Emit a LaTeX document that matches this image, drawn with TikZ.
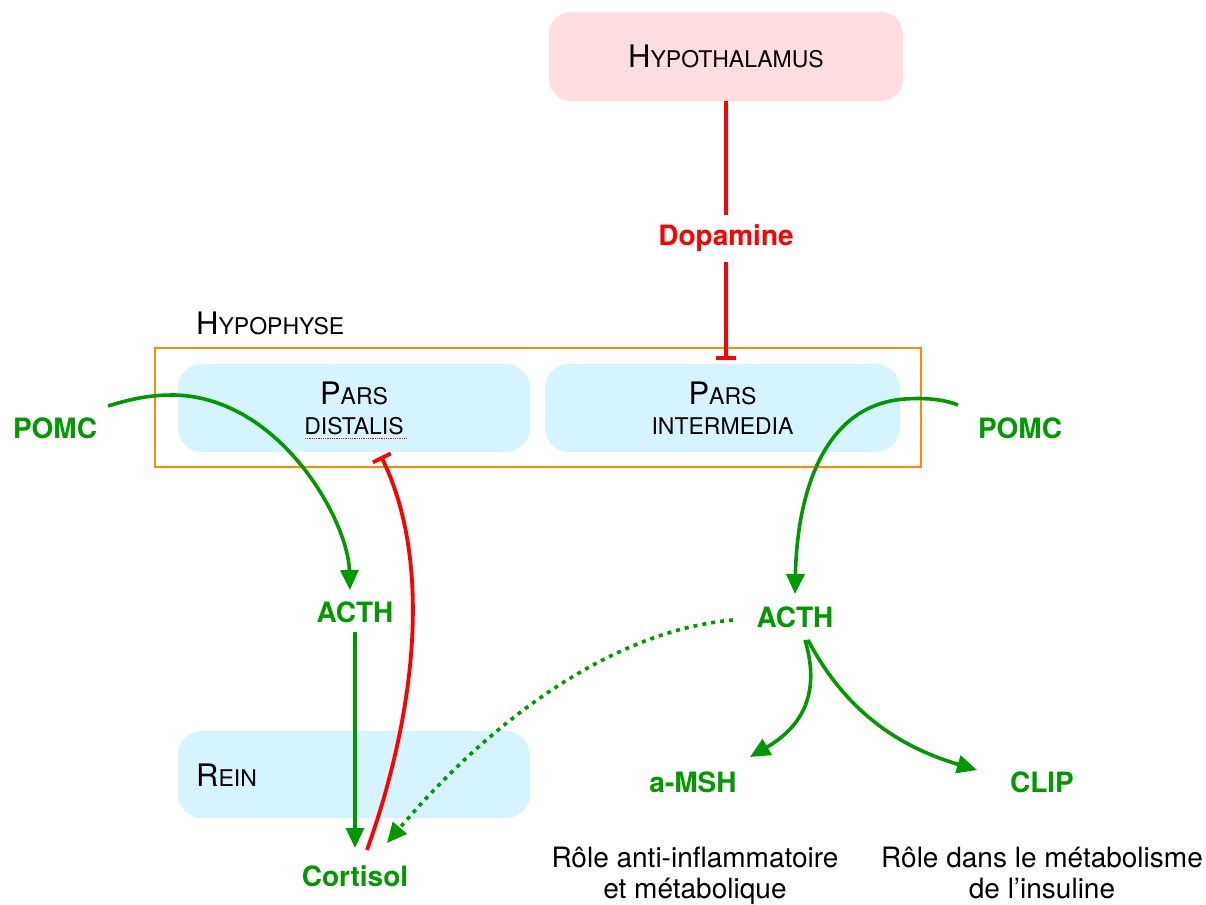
\documentclass[tikz,border=0pt]{standalone}
\usepackage{fontspec}
\setmainfont{TeX Gyre Heros}
\usetikzlibrary{arrows.meta,calc}
\definecolor{hpink}{RGB}{255,221,225}
\definecolor{hblue}{RGB}{214,244,253}
\definecolor{horange}{RGB}{255,140,0}
\definecolor{hgreen}{RGB}{0,153,0}
\definecolor{hred}{RGB}{255,0,0}
\newcommand{\fsc}[2]{{\fontsize{31}{36}\selectfont #1}{\fontsize{23}{30}\selectfont #2}}
\newcommand{\fsm}[1]{{\fontsize{23}{30}\selectfont #1}}
\begin{document}
\begin{tikzpicture}[x=1pt,y=-1pt,
  organ/.style={rounded corners=24pt, minimum width=352pt, minimum height=88pt, inner sep=0pt, align=center, font=\fontsize{23}{30}\selectfont},
  glabel/.style={text=hgreen, font=\fontsize{28}{32}\selectfont\bfseries, inner sep=0pt},
  rlabel/.style={text=hred, font=\fontsize{28}{32}\selectfont\bfseries, inner sep=0pt},
  desc/.style={anchor=north, inner sep=0pt, align=center, font=\fontsize{28}{31}\selectfont},
  garrow/.style={draw=hgreen, line width=3.6pt, -{Triangle[length=20pt,width=18pt]}},
  gdot/.style={draw=hgreen, line width=3.6pt, dash pattern=on 4pt off 5pt, -{Triangle[length=20pt,width=18pt]}},
  redline/.style={draw=hred, line width=3.8pt},
  inhib/.style={draw=hred, line width=3.8pt, -{Bar[width=20pt]}}
]
\useasboundingbox (0,0) rectangle (1206,904);

% boxes
\node[organ, fill=hpink, minimum width=354pt, minimum height=89pt, rounded corners=22pt, font=\normalsize] (hyp) at (726,56.5) {\fsc{H}{YPOTHALAMUS}};
\node[anchor=base west, inner sep=0pt] (hlabel) at (196,334) {\fsc{H}{YPOPHYSE}};
\node[draw=horange, line width=2.2pt, minimum width=766pt, minimum height=119pt, inner sep=0pt] (hypo) at (538,407.5) {};
\node[organ, fill=hblue] (pD) at (354,408) {\fsc{P}{ARS}\\\fsm{DISTALIS}};
\node[organ, fill=hblue, minimum width=355pt] (pI) at (722.5,408) {\fsc{P}{ARS}\\\fsm{INTERMEDIA}};
\node[organ, fill=hblue, minimum height=87pt] (rein) at (354,774.5) {};
\node[anchor=base west, inner sep=0pt] (reinlabel) at (196,786) {\fsc{R}{EIN}};

% labels
\node[rlabel] (dop) at (726,238) {Dopamine};
\node[glabel] (pomcL) at (55,428) {POMC};
\node[glabel] (pomcR) at (1020,428) {POMC};
\node[glabel] (acthL) at (355,612) {ACTH};
\node[glabel] (acthR) at (795,617) {ACTH};
\node[glabel] (cort) at (355,876) {Cortisol};
\node[glabel] (msh) at (693,782) {a-MSH};
\node[glabel] (clip) at (1042,782) {CLIP};
\node[desc] (d1) at (695,847) {Rôle anti-inflammatoire\\et métabolique};
\node[desc] (d2) at (1042,847) {Rôle dans le métabolisme\\de l’insuline};

% spell-check squiggle under DISTALIS
\draw[hred, line width=0.8pt, densely dotted] ($(pD)+(-49,30)$) -- ($(pD)+(53,30)$);

% red connectors
\draw[redline] (hyp.south) -- ($(dop)+(0,-23)$);
\draw[inhib] ($(dop)+(0,24)$) -- ($(dop |- pI.north)+(0,-4)$);
\draw[inhib] ($(cort)+(12,-26)$) .. controls (417,710) and (432,560) .. ($(pD.south)+(27,4)$);

% green connectors
\draw[garrow] ($(pomcL)+(53,-22)$) .. controls (140,396) and (158,395) .. (175,395) .. controls (280,398) and (348,520) .. ($(acthL)+(-5,-22)$);
\draw[garrow] ($(pomcR)+(-62,-23)$) .. controls (940,398) and (920,398) .. (905,399) .. controls (820,405) and (797,500) .. ($(acthR)+(0,-23)$);
\draw[garrow] ($(acthL)+(0,20)$) -- ($(cort)+(0,-28)$);
\draw[gdot] ($(acthR)+(-62,3)$) .. controls (620,630) and (500,710) .. ($(cort)+(32,-33)$);
\draw[garrow] ($(acthR)+(10,23)$) .. controls (820,690) and (805,725) .. ($(msh)+(57,-25)$);
\draw[garrow] ($(acthR)+(13,23)$) .. controls (850,720) and (910,750) .. ($(clip)+(-65,-12)$);
\end{tikzpicture}
\end{document}
